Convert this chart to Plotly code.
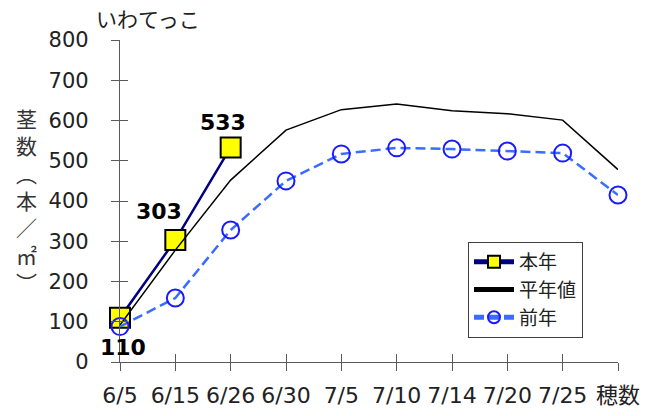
import plotly.graph_objects as go

categories = ["6/5", "6/15", "6/26", "6/30", "7/5", "7/10", "7/14", "7/20", "7/25", "穂数"]
this_year = [110, 303, 533]
normal_year = [92, 278, 452, 576, 627, 641, 624, 617, 601, 478]
prev_year = [88, 159, 328, 450, 517, 532, 529, 524, 519, 415]
y_ticks = [0, 100, 200, 300, 400, 500, 600, 700, 800]

FONT = "DejaVu Sans, Noto Sans CJK JP, sans-serif"
JP = "Noto Sans CJK JP, sans-serif"

# the page body adds an 8px offset; figure is sized so the page matches 657x416
W, H = 649, 408
L, T, R, B = 112, 32, 39, 54
PW, PH = W - L - R, H - T - B

fig = go.Figure()
fig.add_trace(go.Scatter(
    x=categories[:len(this_year)], y=this_year, name="本年", mode="lines+markers",
    line=dict(color="#000080", width=2.5),
    marker=dict(symbol="square", size=20, color="#ffff00", line=dict(color="#000000", width=2)),
    cliponaxis=False,
))
fig.add_trace(go.Scatter(
    x=categories, y=normal_year, name="平年値", mode="lines",
    line=dict(color="#000000", width=1.5), cliponaxis=False,
))
fig.add_trace(go.Scatter(
    x=categories, y=prev_year, name="前年", mode="lines+markers",
    line=dict(color="#3a6cff", width=2.5, dash="10px,5px"),
    marker=dict(symbol="circle-open", size=17, color="#1a1aff", line=dict(width=2)),
    cliponaxis=False,
))
# dummy trace for inside tick marks overlay
fig.add_trace(go.Scatter(x=[None], y=[None], xaxis="x2", yaxis="y2",
                         showlegend=False, hoverinfo="skip"))

# data labels
label_offsets = [(3, -30), (-16, 29), (-8, 25)]
for i, v in enumerate(this_year):
    dx, dy = label_offsets[i]
    fig.add_annotation(x=categories[i], y=v, text=f"<b>{v}</b>", showarrow=False,
                       xshift=dx, yshift=dy, font=dict(family=FONT, size=22, color="#000000"))

# chart title (as annotation)
fig.add_annotation(xref="paper", yref="paper", x=(86 - L) / PW, y=(PH - (18 - 8 - T)) / PH,
                   text="いわてっこ", showarrow=False, xanchor="left", yanchor="middle",
                   font=dict(family=JP, size=21, color="#222222"))

# y-axis title (vertical stacked)
fig.add_annotation(xref="paper", yref="paper", x=-(112 - 18) / PW, y=(PH - (200 - 8 - T)) / PH,
                   text="茎<br>数<br>︵<br>本<br>／<br>㎡<br>︶", showarrow=False,
                   xanchor="center", yanchor="middle",
                   font=dict(family=JP, size=21, color="#333333"))

fig.update_layout(
    width=W, height=H,
    margin=dict(l=L, r=R, t=T, b=B, autoexpand=False),
    paper_bgcolor="white", plot_bgcolor="white",
    font=dict(family=FONT, color="#222222"),
    showlegend=True,
    legend=dict(x=(468 - 8 - L) / PW, y=(PH - (242 - 8 - T)) / PH, xanchor="left", yanchor="top",
                bordercolor="#404040", borderwidth=1, bgcolor="white",
                font=dict(family=JP, size=19, color="#222222"),
                tracegroupgap=0, itemwidth=40, itemsizing="constant"),
    xaxis=dict(type="category", categoryorder="array", categoryarray=categories,
               range=[0, len(categories) - 1], showgrid=False, zeroline=False,
               automargin=False,
               showline=True, linecolor="#595959", linewidth=1.2,
               ticks="outside", ticklen=8, tickcolor="#595959", tickwidth=1.2,
               tickfont=dict(family=FONT, size=22, color="#222222"),
               ticklabelstandoff=5),
    yaxis=dict(range=[0, 800], tickvals=y_ticks, showgrid=False, zeroline=False,
               automargin=False,
               showline=True, linecolor="#595959", linewidth=1.2,
               ticks="outside", ticklen=8, tickcolor="#595959", tickwidth=1.2,
               tickfont=dict(family=FONT, size=21, color="#222222"),
               ticklabelstandoff=18),
    xaxis2=dict(overlaying="x", range=[0, len(categories) - 1],
                tickvals=list(range(len(categories))), showticklabels=False,
                ticks="inside", ticklen=8, tickcolor="#595959", tickwidth=1.2,
                showgrid=False, zeroline=False, showline=False, automargin=False),
    yaxis2=dict(overlaying="y", range=[0, 800], tickvals=y_ticks, showticklabels=False,
                ticks="inside", ticklen=8, tickcolor="#595959", tickwidth=1.2,
                showgrid=False, zeroline=False, showline=False, automargin=False),
)

fig.write_html("out.html")
